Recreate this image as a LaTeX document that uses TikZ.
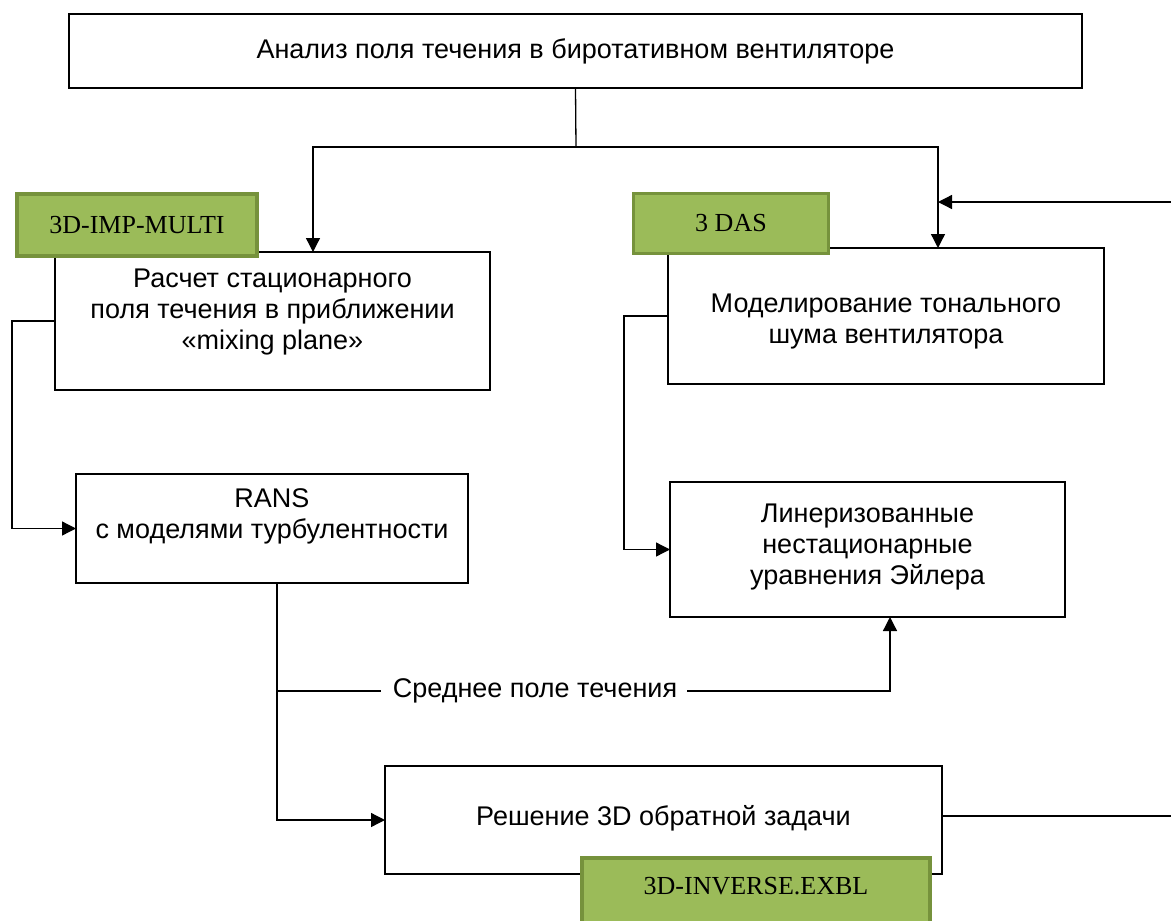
\documentclass[tikz,border=0pt]{standalone}
\usepackage{fontspec}
\setmainfont{Liberation Sans}
\newfontfamily\tagfont{Liberation Serif}
\usetikzlibrary{arrows.meta}
\definecolor{tagfill}{HTML}{9BBB59}
\definecolor{tagdraw}{HTML}{76923C}

\begin{document}
\begin{tikzpicture}[
    x=1pt, y=-1pt,
    every node/.style={inner sep=0pt, outer sep=0pt},
    box/.style={draw, line width=1.8pt},
    txt/.style={align=center, font=\fontsize{27}{31}\selectfont},
    tag/.style={draw=tagdraw, fill=tagfill, line width=3.5pt},
    tagtxt/.style={font=\tagfont\fontsize{26}{30}\selectfont},
    link/.style={draw, line width=1.3pt},
    arr/.style={link, -{Triangle[length=14pt,width=14pt]}}
  ]
  \useasboundingbox (0,0) rectangle (1171,921);

  % boxes
  \node[box, line width=2.2pt, minimum width=1013, minimum height=74] (top) at (575.5,51) {};
  \node[txt] (toptext) at (top.center) {Анализ поля течения в биротативном вентиляторе};
  \node[box, minimum width=435, minimum height=138] (calc) at (272.5,321) {};
  \node[txt] (calctext) at (272.5,312) {Расчет стационарного\\поля течения в приближении\\«mixing plane»};
  \node[box, minimum width=436, minimum height=136] (model) at (886,316) {};
  \node[txt] (modeltext) at (886,322) {Моделирование тонального\\шума вентилятора};
  \node[box, minimum width=392, minimum height=109] (rans) at (272,528.5) {};
  \node[txt] (ranstext) at (272,516) {RANS\\с моделями турбулентности};
  \node[box, minimum width=395, minimum height=135] (lin) at (867.5,549.5) {};
  \node[txt] (lintext) at (867.5,547) {Линеризованные\\нестационарные\\уравнения Эйлера};
  \node[box, minimum width=557, minimum height=108] (solve) at (663.5,820) {};
  \node[txt] (solvetext) at (663.5,818) {Решение 3D обратной задачи};

  % program tags
  \node[tag, minimum width=240, minimum height=62] (impmulti) at (137,225) {};
  \node[tagtxt] (impmultitext) at (impmulti.center) {3D-IMP-MULTI};
  \node[tag, minimum width=195, minimum height=60] (das) at (731,223.5) {};
  \node[tagtxt] (dastext) at (das.center) {3 DAS};
  \node[tag, minimum width=348, minimum height=80] (inverse) at (756,898) {};
  \node[tagtxt] (inversetext) at (756,886) {3D-INVERSE.EXBL};

  % connectors
  \coordinate (fork) at (576,147);
  \coordinate (calcdrop) at ([xshift=40.5pt]calc.north);
  \coordinate (modeldrop) at ([xshift=52pt]model.north);
  \coordinate (loopin) at (1171,202);
  \coordinate (loopout) at (1171,816);
  \coordinate (ransdrop) at ([xshift=5pt]rans.south);
  \coordinate (linup) at ([xshift=22.5pt]lin.south);

  \draw[link] (top.south) -- (fork);
  \draw[arr] (fork) -| (calcdrop);
  \draw[arr] (fork) -| (modeldrop);
  \draw[arr] (loopin) -- (loopin -| modeldrop);
  \draw[link] (solve.east |- loopout) -- (loopout);
  \draw[arr] (calc.west) -- ++(-43,0) |- (rans.west);
  \draw[arr] (model.west) -- ++(-44,0) |- (lin.west);
  \draw[arr] (ransdrop) |- (solve.west);

  \node[txt] (meantext) at (535,691) {Среднее поле течения};
  \draw[link] (ransdrop |- meantext) -- ([xshift=-12pt]meantext.west);
  \draw[arr] ([xshift=10pt]meantext.east) -| (linup);
\end{tikzpicture}
\end{document}
